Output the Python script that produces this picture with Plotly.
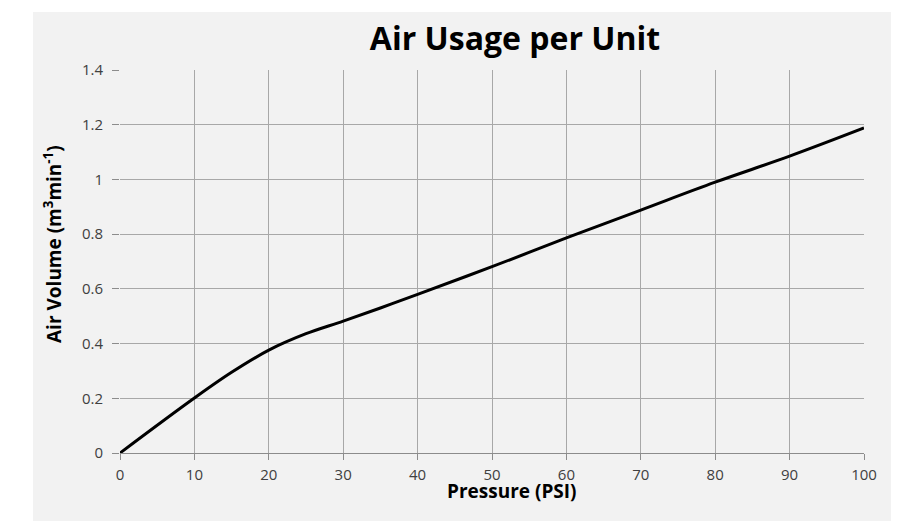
import plotly.graph_objects as go

pressure_psi = [0, 10, 15, 20, 25, 30, 35, 40, 50, 60, 70, 80, 90, 100]
air_volume = [0.0, 0.201, 0.295, 0.376, 0.436, 0.482, 0.530, 0.580, 0.681, 0.786, 0.888, 0.99, 1.085, 1.188]

x_ticks = [0, 10, 20, 30, 40, 50, 60, 70, 80, 90, 100]
y_ticks = [0, 0.2, 0.4, 0.6, 0.8, 1, 1.2, 1.4]
y_tick_text = ["0", "0.2", "0.4", "0.6", "0.8", "1", "1.2", "1.4"]

# page body has an 8px margin, so figure coords = screen coords - 8
OFF = 8
W, H = 891, 513
L, R, T, B = 120 - OFF, 864 - OFF, 70 - OFF, 453 - OFF
pw, ph = R - L, B - T

def px2x(p):
    return (p - OFF - L) / pw

def py2y(p):
    return (B - (p - OFF)) / ph

fig = go.Figure()
fig.add_trace(go.Scatter(
    x=pressure_psi, y=air_volume, mode="lines",
    line=dict(color="black", width=3, shape="spline", smoothing=1.0),
    hoverinfo="skip", showlegend=False,
))

font_family = "Open Sans, Liberation Sans, sans-serif"
tick_font = dict(family=font_family, size=15, color="#404040")

fig.update_layout(
    width=W, height=H,
    margin=dict(l=L, r=W - R, t=T, b=H - B, pad=0),
    paper_bgcolor="white",
    plot_bgcolor="#f2f2f2",
    title=dict(
        text="<b>Air Usage per Unit</b>",
        font=dict(family=font_family, size=32, color="black"),
        x=(515 - OFF) / W, xanchor="center", xref="container",
        y=1 - (39 - OFF) / H, yanchor="middle", yref="container",
    ),
    xaxis=dict(
        range=[0, 100], tickvals=x_ticks, ticktext=[str(v) for v in x_ticks],
        showgrid=True, gridcolor="#a8a8a8", gridwidth=1,
        showline=True, linecolor="#8c8c8c", linewidth=1,
        ticks="outside", ticklen=6, tickcolor="#8c8c8c",
        ticklabelstandoff=2,
        tickfont=tick_font, zeroline=False, fixedrange=True,
    ),
    yaxis=dict(
        range=[0, 1.4], tickvals=y_ticks, ticktext=y_tick_text,
        showgrid=True, gridcolor="#a8a8a8", gridwidth=1,
        showline=False,
        ticks="outside", ticklen=7, tickcolor="#8c8c8c",
        ticklabelstandoff=6,
        tickfont=tick_font, zeroline=False, fixedrange=True,
    ),
    shapes=[dict(
        type="rect", xref="paper", yref="paper", layer="below",
        x0=px2x(33), x1=px2x(899), y0=py2y(521), y1=py2y(12),
        fillcolor="#f2f2f2", line=dict(width=0),
    )],
    annotations=[
        dict(text="<b>Pressure (PSI)</b>", xref="paper", yref="paper",
             x=px2x(512), y=py2y(491), xanchor="center", yanchor="middle",
             showarrow=False, font=dict(family=font_family, size=19, color="black")),
        dict(text="<b>Air Volume (m<sup>3</sup>min<sup>-1</sup>)</b>", xref="paper", yref="paper",
             x=px2x(53), y=py2y(244), xanchor="center", yanchor="middle", textangle=-90,
             showarrow=False, font=dict(family=font_family, size=19, color="black")),
    ],
)

fig.write_html("out.html")
